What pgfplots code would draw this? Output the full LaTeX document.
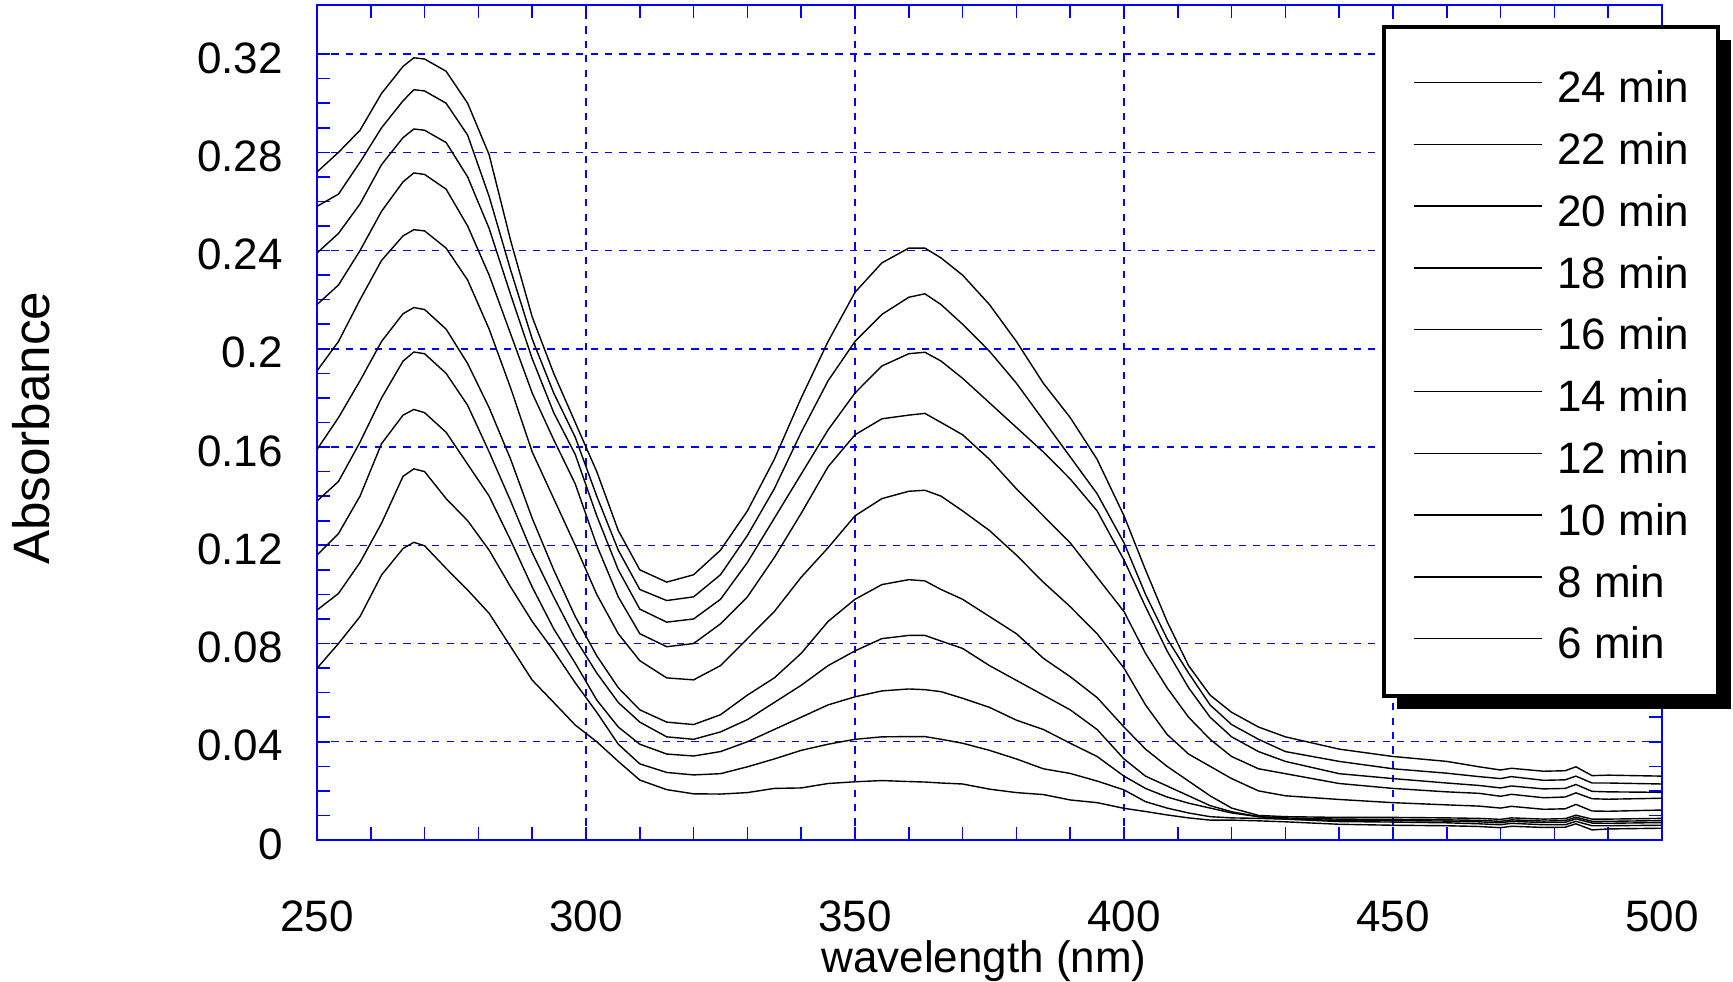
\documentclass[border=0pt]{standalone}
\usepackage{fontspec}
\setmainfont{Liberation Sans}
\usepackage{pgfplots}
\usepackage{pgfplotstable}
\pgfplotsset{compat=1.18}
\usetikzlibrary{shadows}

% absorbance spectra, one column per reaction time
\pgfplotstableread{
wl   m24    m22    m20    m18    m16    m14    m12    m10    m8     m6
250  0.272  0.258  0.239  0.218  0.191  0.159  0.138  0.116  0.0936 0.0699
254  0.280  0.263  0.247  0.226  0.203  0.172  0.146  0.1248 0.1004 0.080
258  0.289  0.276  0.259  0.240  0.220  0.187  0.162  0.140  0.113  0.091
262  0.304  0.290  0.275  0.256  0.236  0.203  0.180  0.1614 0.129  0.1079
266  0.315  0.301  0.286  0.268  0.246  0.2143 0.195  0.173  0.1481 0.1187
268  0.3185 0.3055 0.2895 0.2716 0.2485 0.2168 0.1987 0.1753 0.1511 0.1212
270  0.318  0.305  0.289  0.271  0.248  0.216  0.198  0.174  0.150  0.1198
274  0.313  0.300  0.284  0.265  0.241  0.208  0.190  0.166  0.139  0.1106
278  0.300  0.287  0.270  0.250  0.228  0.194  0.177  0.153  0.130  0.1018
282  0.279  0.262  0.249  0.230  0.208  0.176  0.158  0.140  0.118  0.0923
286  0.244  0.232  0.222  0.206  0.184  0.155  0.138  0.122  0.103  0.0787
290  0.213  0.204  0.196  0.182  0.158  0.131  0.117  0.103  0.089  0.0651
294  0.190  0.182  0.174  0.163  0.139  0.110  0.099  0.086  0.077  0.056
298  0.170  0.164  0.157  0.145  0.120  0.091  0.082  0.072  0.064  0.0468
302  0.150  0.140  0.132  0.120  0.100  0.075  0.068  0.057  0.052  0.040
306  0.126  0.118  0.110  0.099  0.084  0.062  0.056  0.046  0.039  0.032
310  0.110  0.102  0.094  0.084  0.073  0.053  0.048  0.039  0.031  0.0244
315  0.105  0.0975 0.0887 0.0787 0.066  0.048  0.042  0.035  0.0275 0.0205
320  0.108  0.099  0.090  0.080  0.0652 0.047  0.041  0.0342 0.0265 0.0188
325  0.118  0.108  0.098  0.088  0.071  0.051  0.044  0.036  0.027  0.0187
330  0.134  0.124  0.113  0.099  0.082  0.059  0.049  0.040  0.0298 0.0193
335  0.155  0.143  0.131  0.115  0.093  0.066  0.056  0.045  0.033  0.021
340  0.180  0.166  0.149  0.133  0.107  0.076  0.063  0.050  0.0365 0.0212
345  0.203  0.187  0.167  0.152  0.119  0.089  0.071  0.055  0.039  0.023
350  0.223  0.203  0.182  0.165  0.132  0.098  0.077  0.0583 0.041  0.0237
355  0.235  0.214  0.193  0.1715 0.139  0.104  0.082  0.0607 0.042  0.0242
360  0.241  0.221  0.198  0.173  0.142  0.106  0.0833 0.0615 0.0421 0.0238
363  0.241  0.2224 0.1986 0.1737 0.1424 0.1055 0.0833 0.0612 0.0421 0.0236
366  0.237  0.218  0.195  0.170  0.140  0.102  0.081  0.0604 0.041  0.0232
370  0.230  0.210  0.188  0.165  0.134  0.098  0.078  0.0577 0.0394 0.0228
375  0.218  0.199  0.178  0.155  0.126  0.091  0.071  0.054  0.0365 0.0207
380  0.203  0.186  0.168  0.143  0.116  0.084  0.065  0.0488 0.033  0.0193
385  0.186  0.171  0.158  0.132  0.105  0.074  0.059  0.045  0.029  0.0185
390  0.172  0.156  0.147  0.121  0.095  0.0665 0.053  0.0394 0.0271 0.0163
395  0.155  0.141  0.134  0.107  0.084  0.058  0.045  0.034  0.024  0.0152
400  0.132  0.121  0.114  0.093  0.070  0.046  0.033  0.026  0.0204 0.0129
404  0.110  0.100  0.095  0.076  0.055  0.037  0.026  0.021  0.0156 0.0116
408  0.089  0.082  0.077  0.062  0.043  0.030  0.022  0.0175 0.013  0.0102
412  0.071  0.068  0.062  0.050  0.035  0.024  0.018  0.015  0.011  0.009
416  0.059  0.055  0.050  0.041  0.030  0.018  0.014  0.013  0.0095 0.0081
420  0.052  0.047  0.042  0.034  0.025  0.013  0.0115 0.011  0.009  0.0081
425  0.046  0.041  0.036  0.029  0.020  0.010  0.0095 0.0095 0.0088 0.0078
430  0.042  0.036  0.032  0.027  0.018  0.0095 0.009  0.0085 0.0085 0.0074
440  0.037  0.032  0.027  0.023  0.0165 0.0092 0.0085 0.008  0.0075 0.0064
450  0.034  0.029  0.025  0.021  0.0152 0.0092 0.0084 0.0079 0.0073 0.006
460  0.032  0.0272 0.0232 0.0196 0.0143 0.009  0.0082 0.0077 0.007  0.0058
466  0.0298 0.0258 0.0222 0.019  0.0138 0.0088 0.008  0.0074 0.0066 0.0055
470  0.0285 0.025  0.0212 0.0178 0.013  0.0084 0.0076 0.007  0.0062 0.005
472  0.0292 0.0258 0.022  0.0186 0.0137 0.009  0.0082 0.0076 0.0068 0.0056
478  0.028  0.0243 0.0208 0.0172 0.0125 0.0085 0.0077 0.0071 0.0062 0.0051
482  0.0282 0.0245 0.021  0.0175 0.0127 0.0087 0.0079 0.0072 0.0062 0.0052
484  0.0298 0.026  0.0226 0.0192 0.0145 0.0101 0.0093 0.0086 0.0076 0.0066
487  0.0262 0.0232 0.0198 0.0168 0.0118 0.0085 0.0076 0.0069 0.0058 0.0041
490  0.0264 0.0232 0.0196 0.0166 0.0117 0.0085 0.0076 0.0068 0.0058 0.0045
500  0.026  0.0228 0.0194 0.017  0.0122 0.0088 0.0079 0.0071 0.006  0.0048
}\spectra

\begin{document}
\begin{tikzpicture}[font=\fontsize{11}{13}\selectfont]
% page = 1733 x 982 px at 0.25pt per px
\path[use as bounding box] (-79.25pt,-35.5pt) rectangle (354pt,210pt);
\begin{axis}[
    at={(0pt,0pt)}, anchor=south west,
    scale only axis,
    width=336.25pt, height=208.75pt,
    xmin=250, xmax=500,
    ymin=0, ymax=0.34,
    xtick={250,300,350,400,450,500},
    ytick={0,0.04,0.08,0.12,0.16,0.2,0.24,0.28,0.32},
    minor x tick num=4,
    minor y tick num=3,
    tick align=inside,
    major tick length=3.25pt,
    minor tick length=3.25pt,
    axis line style={blue, line width=0.5pt},
    tick style={blue, line width=0.4pt},
    grid=major,
    major grid style={blue, line width=0.35pt, dash pattern=on 1.8pt off 1.8pt},
    scaled y ticks=false,
    /pgf/number format/assume math mode=true,
    yticklabel style={/pgf/number format/fixed, /pgf/number format/precision=2,
        xshift=-5pt, yshift=-1pt},
    xticklabel style={yshift=-11.6pt},
    xlabel={wavelength (nm)},
    ylabel={Absorbance},
    xlabel style={at={(axis description cs:0.4959,-0.1586)}, anchor=base},
    ylabel style={at={(axis description cs:-0.199,0.493)}, anchor=base,
        font=\fontsize{12.8}{15}\selectfont},
    legend cell align=left,
    % drawn at pgf level so the legend's shadow is not copied onto the lines
    legend image code/.code={%
        \pgfsetlinewidth{0.35pt}\pgfsetstrokecolor{black}%
        \pgfpathmoveto{\pgfqpoint{0pt}{0.2pt}}%
        \pgfpathlineto{\pgfqpoint{32pt}{0.2pt}}%
        \pgfusepath{stroke}},
    legend style={
        at={(axis description cs:0.7918,0.976)}, anchor=north west,
        draw=black, line width=1pt, fill=white,
        inner xsep=7.25pt, inner ysep=9.25pt,
        row sep=5.8pt, column sep=3.75pt,
        nodes={inner sep=0pt, text height=9.65pt, text depth=-1.75pt},
        drop shadow={shadow xshift=3.25pt, shadow yshift=-3.25pt, fill=black, opacity=1},
    },
]
\addplot[black, line width=0.35pt] table[x=wl, y=m24] {\spectra};
\addlegendentry{24 min}
\addplot[black, line width=0.35pt] table[x=wl, y=m22] {\spectra};
\addlegendentry{22 min}
\addplot[black, line width=0.35pt] table[x=wl, y=m20] {\spectra};
\addlegendentry{20 min}
\addplot[black, line width=0.35pt] table[x=wl, y=m18] {\spectra};
\addlegendentry{18 min}
\addplot[black, line width=0.35pt] table[x=wl, y=m16] {\spectra};
\addlegendentry{16 min}
\addplot[black, line width=0.35pt] table[x=wl, y=m14] {\spectra};
\addlegendentry{14 min}
\addplot[black, line width=0.35pt] table[x=wl, y=m12] {\spectra};
\addlegendentry{12 min}
\addplot[black, line width=0.35pt] table[x=wl, y=m10] {\spectra};
\addlegendentry{10 min}
\addplot[black, line width=0.35pt] table[x=wl, y=m8] {\spectra};
\addlegendentry{8 min}
\addplot[black, line width=0.35pt] table[x=wl, y=m6] {\spectra};
\addlegendentry{6 min}
\end{axis}
\end{tikzpicture}
\end{document}
